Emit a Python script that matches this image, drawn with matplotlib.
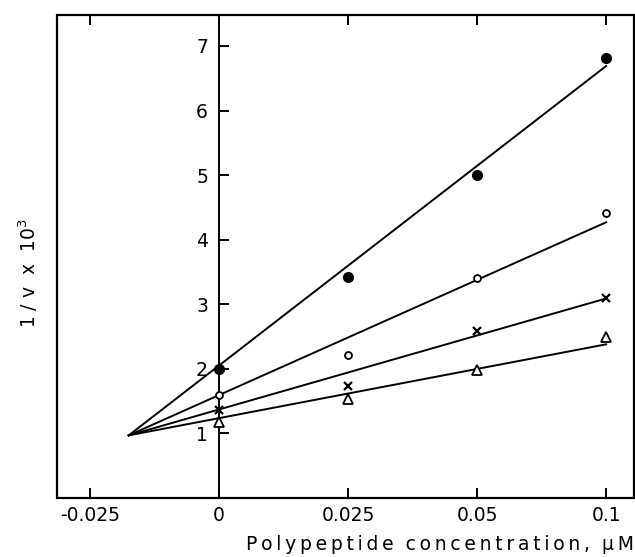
import matplotlib.pyplot as plt
import numpy as np
from matplotlib.patches import Rectangle

# polypeptide concentration (uM) and 1/v x 10^3 for the four series
conc = [0, 0.025, 0.05, 0.1]
filled_circle = [2.0, 3.42, 5.0, 6.82]
open_circle = [1.6, 2.21, 3.4, 4.42]
crosses = [1.37, 1.74, 2.58, 3.09]
triangles = [1.17, 1.53, 1.99, 2.5]

# fitted lines: common intersection point, then value at 0.1 uM
meet_x, meet_y = -0.0175, 0.97
line_ends = [6.69, 4.27, 3.09, 2.38]

xticks = [-0.025, 0, 0.025, 0.05, 0.1]
xtick_labels = ["-0.025", "0", "0.025", "0.05", "0.1"]
yticks = [1, 2, 3, 4, 5, 6, 7]


# the original axis squeezes 0.05 -> 0.1 into one tick interval
def fwd(x):
    x = np.asarray(x, dtype=float)
    return np.where(x > 0.05, 0.05 + (x - 0.05) / 2, x)


def inv(x):
    x = np.asarray(x, dtype=float)
    return np.where(x > 0.05, 0.05 + (x - 0.05) * 2, x)


def spaced(s):
    # wide letter spacing like the typeset original
    return "  ".join("\u2009".join(w) for w in s.split(" "))


fig = plt.figure(figsize=(6.35, 5.57), dpi=100)
ax = fig.add_axes([57 / 635, 59 / 557, 577 / 635, 483 / 557])
ax.set_xscale("function", functions=(fwd, inv))
ax.set_xlim(-0.0314, 0.1108)
ax.set_ylim(0, 7.48)

for end in line_ends:
    ax.plot([meet_x, 0.1], [meet_y, end], color="black", lw=1.4, zorder=2)

ax.plot(conc, filled_circle, "o", color="black", ms=7, ls="none", zorder=3)
ax.plot(conc, open_circle, "o", mfc="white", mec="black", mew=1.3, ms=5,
        ls="none", zorder=3)
ax.plot(conc, crosses, "x", color="black", mew=1.6, ms=6, ls="none", zorder=3)
ax.plot(conc, triangles, "^", mfc="white", mec="black", mew=1.3, ms=6.5,
        ls="none", zorder=3)

# y axis drawn at x = 0, box frame around everything
for s in ["top", "right", "bottom"]:
    ax.spines[s].set_visible(False)
ax.spines["left"].set_position(("data", 0))
ax.spines["left"].set_linewidth(1.4)
ax.add_patch(Rectangle((0, 0), 1, 1, transform=ax.transAxes, fill=False,
                       lw=1.6, ec="black", clip_on=False, zorder=5))

ax.set_yticks(yticks)
ax.set_yticklabels([str(v) for v in yticks])
ax.tick_params(axis="y", direction="in", length=7, width=1.4, pad=8,
               labelsize=13.5)

ax.set_xticks(xticks)
ax.set_xticklabels(xtick_labels)
ax.xaxis.set_minor_locator(plt.NullLocator())
ax.tick_params(axis="x", which="both", direction="in", top=True, length=7,
               width=1.4, pad=6, labelsize=13.5)

fig.text(0.998, 1 - 545 / 557, spaced("Polypeptide concentration, \u03bcM"),
         ha="right", va="center", fontsize=13.5)
fig.text(28 / 635, 1 - 273 / 557, "1 / v  x  10$^3$", rotation=90,
         ha="center", va="center", fontsize=13.5)

fig.savefig("out.png", dpi=100)
